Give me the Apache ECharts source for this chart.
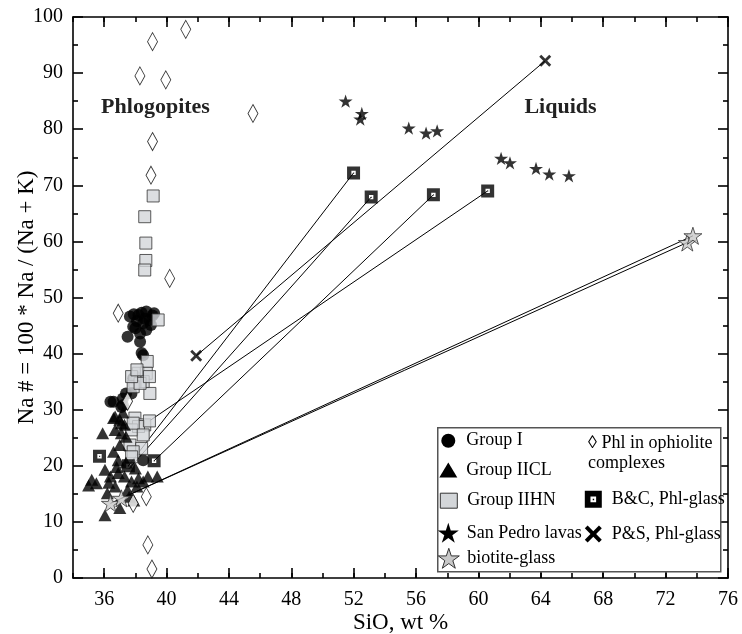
<!DOCTYPE html>
<html><head><meta charset="utf-8">
<script src="https://cdn.jsdelivr.net/npm/echarts@6/dist/echarts.min.js"></script>
<style>html,body{margin:0;padding:0;background:#fff}#c{width:742px;height:634px}</style>
</head><body><div id="c"></div>
<script>
// ---- data ----
const xMajorTicks = [36,40,44,48,52,56,60,64,68,72,76];
const groupI = [[37.65,46.6],[38.2,46.9],[38.7,47.5],[39.1,46.8],[38.5,45.4],[37.86,44.8],[39.0,45.1],[38.0,44.5],[38.7,44.2],[38.3,43.6],[37.5,43.0],[38.3,42.1],[38.4,40.1],[38.5,39.7],[37.86,35.6],[38.0,35.9],[37.4,32.9],[37.75,32.9],[37.2,32.0],[36.6,31.4],[36.4,31.4],[37.2,30.8],[37.1,30.5],[38.5,21.0],[38.9,46.0],[38.4,47.3],[37.9,47.0],[38.6,46.2],[38.1,45.8],[39.2,47.2]];
const groupIIHN = [[39.14,68.1],[38.6,64.4],[38.67,59.7],[38.67,56.6],[38.6,54.9],[39.46,46.0],[38.76,38.6],[38.18,36.5],[38.7,36.5],[38.5,35.0],[37.97,35.0],[38.93,32.9],[37.86,34.1],[38.3,34.7],[38.9,35.9],[37.76,35.9],[38.1,37.1],[37.97,28.5],[38.6,27.3],[38.2,27.0],[37.76,26.4],[37.86,27.6],[38.5,25.5],[37.65,23.7],[38.4,23.1],[37.86,22.5],[37.76,21.6],[38.9,28.0]];
const groupIICL = [[35.9,25.8],[36.6,28.5],[37.0,28.2],[37.3,27.3],[36.7,26.4],[37.1,25.8],[37.4,25.2],[36.6,22.5],[37.0,23.7],[35.5,16.9],[36.05,19.3],[36.4,18.1],[36.9,18.7],[37.3,18.1],[37.75,17.2],[38.2,17.8],[38.8,18.1],[39.4,18.1],[36.7,16.3],[37.5,15.7],[36.2,15.1],[38.1,16.3],[38.5,17.2],[35.2,17.5],[35.0,16.5],[36.05,11.2],[37.0,12.5],[36.9,21.0],[37.4,20.6],[37.2,29.5],[36.8,19.8],[37.6,14.5],[38.0,19.5],[36.3,17.0],[37.9,13.8],[36.7,28.8],[37.1,27.6]];
const ophiolite = [[41.23,97.8],[39.1,95.6],[38.29,89.5],[39.95,88.8],[45.54,82.8],[39.1,77.8],[39.0,71.8],[40.2,53.4],[36.9,47.2],[37.5,31.5],[37.86,13.3],[38.7,14.5],[38.8,5.9],[39.06,1.6]];
const sanPedro = [[51.48,85.0],[52.52,82.8],[52.42,81.8],[55.53,80.2],[56.64,79.3],[57.35,79.7],[61.45,74.8],[62.02,74.0],[63.69,73.0],[64.54,72.0],[65.8,71.7]];
const biotiteGlass = [[73.39,59.8],[73.75,61.0],[36.4,13.3],[37.1,14.2]];
const bcPhlGlass = [[51.99,72.2],[53.12,67.9],[57.11,68.3],[60.59,69.0],[35.7,21.7],[39.2,20.9],[37.55,20.0]];
const psPhlGlass = [[41.9,39.6],[64.28,92.2]];
const tieLines = [
  [[37.55,20.0],[51.99,72.2]],
  [[37.6,19.5],[53.12,67.9]],
  [[39.2,20.9],[57.11,68.3]],
  [[38.9,28.0],[60.59,69.0]],
  [[41.9,39.6],[64.28,92.2]],
  [[36.4,13.3],[73.75,61.0]],
  [[37.1,14.2],[73.39,59.8]]
];

// ---- styles ----
const FF = '"Liberation Serif","Times New Roman",serif';
const STAR = 'path://M50,0L61.2,34.5L97.6,34.5L68.2,55.9L79.4,90.5L50,69.1L20.6,90.5L31.8,55.9L2.4,34.5L38.8,34.5Z';
const BC = 'path://M0,0H12V12H0Z M4,4V8H8V4Z M5.6,5.6H6.6V6.6H5.6Z';
const XS = 'path://M0,2L2,0L6,4L10,0L12,2L8,6L12,10L10,12L6,8L2,12L0,10L4,6Z';
const AX = {color:'#000', width:1.6};
const gridBox = {left:73, right:14, top:17, bottom:56, outerBoundsMode:'none', containLabel:false};

function leg(name, icon, style, left, top, w, h, pad, extra) {
  return Object.assign({
    data:[{name:name, icon:icon, itemStyle:style}], left:left, top:top, orient:'vertical', padding:0,
    itemWidth:w, itemHeight:h, selectedMode:false, itemStyle:style,
    textStyle:{fontFamily:FF, fontSize:18, color:'#000', lineHeight:20, padding:[0,0,0,pad]}
  }, extra||{});
}
const BLACK = {color:'#000', borderWidth:0, opacity:1};

const chart = echarts.init(document.getElementById('c'), null, {renderer:'canvas'});
chart.setOption({
  animation:false,
  backgroundColor:'#fff',
  grid:[Object.assign({}, gridBox), Object.assign({}, gridBox)],
  xAxis:[
    {gridIndex:0, type:'value', position:'bottom', min:34, max:76, interval:2,
     axisLine:{show:true, onZero:false, lineStyle:AX},
     axisTick:{show:true, inside:true, length:10, customValues:xMajorTicks, lineStyle:AX},
     axisLabel:{show:true, customValues:xMajorTicks, fontFamily:FF, fontSize:20, color:'#000', margin:12},
     splitLine:{show:false},
     name:'SiO, wt %', nameLocation:'middle', nameGap:33, nameMoveOverlap:false,
     nameTextStyle:{fontFamily:FF, fontSize:23, color:'#000'}},
    {gridIndex:0, type:'value', position:'top', min:34, max:76, interval:2,
     axisLine:{show:true, onZero:false, lineStyle:AX},
     axisTick:{show:true, inside:true, length:10, customValues:xMajorTicks, lineStyle:AX},
     axisLabel:{show:false}, splitLine:{show:false}},
    {gridIndex:1, type:'value', position:'bottom', min:34, max:76, interval:2,
     axisLine:{show:false, onZero:false},
     axisTick:{show:true, inside:true, length:5, lineStyle:AX},
     axisLabel:{show:false}, splitLine:{show:false}},
    {gridIndex:1, type:'value', position:'top', min:34, max:76, interval:2,
     axisLine:{show:false, onZero:false},
     axisTick:{show:true, inside:true, length:5, lineStyle:AX},
     axisLabel:{show:false}, splitLine:{show:false}}
  ],
  yAxis:[
    {gridIndex:0, type:'value', position:'left', min:0, max:100, interval:10,
     axisLine:{show:true, onZero:false, lineStyle:AX},
     axisTick:{show:true, inside:true, length:10, lineStyle:AX},
     minorTick:{show:true, splitNumber:2, length:5, lineStyle:AX},
     axisLabel:{fontFamily:FF, fontSize:20, color:'#000', margin:10},
     splitLine:{show:false}, minorSplitLine:{show:false},
     name:'Na # = 100 * Na / (Na + K)', nameLocation:'middle', nameGap:35, nameRotate:90, nameMoveOverlap:false,
     nameTextStyle:{fontFamily:FF, fontSize:23, color:'#000'}},
    {gridIndex:0, type:'value', position:'right', min:0, max:100, interval:10,
     axisLine:{show:true, onZero:false, lineStyle:AX},
     axisTick:{show:true, inside:true, length:10, lineStyle:AX},
     minorTick:{show:true, splitNumber:2, length:5, lineStyle:AX},
     axisLabel:{show:false}, splitLine:{show:false}},
    {gridIndex:1, type:'value', min:0, max:100, show:false}
  ],
  legend:[
    leg('Group I', 'circle', BLACK, 441.3, 430.7, 14, 14, 6),
    leg('Group IICL', 'triangle', BLACK, 439.3, 460, 18, 15, 4),
    leg('Group IIHN', 'rect', {color:'#d3d6d9', borderColor:'#333', borderWidth:1, opacity:1}, 439.8, 490.7, 17, 15, 5),
    leg('San Pedro lavas', STAR, BLACK, 437.8, 522.8, 21, 20, 3),
    leg('biotite-glass', STAR, {color:'#c8c8c8', borderColor:'#333', borderWidth:1, opacity:1}, 437.8, 547.8, 21, 20, 3),
    leg('Phl in ophiolite complexes', 'none', BLACK, 583, 433, 0, 14, 0, {
      formatter:function(){return '\u25CA Phl in ophiolite\ncomplexes';}}),
    leg('B&C, Phl-glass', BC, BLACK, 584.8, 489.3, 17, 17, 5),
    leg('P&S, Phl-glass', XS, BLACK, 584.8, 524, 17, 17, 5)
  ],
  graphic:[
    {type:'rect', left:437, top:427, z:3, silent:true,
     shape:{width:283, height:144}, style:{fill:'#fff', stroke:'#555', lineWidth:1.5}},
    {type:'text', x:155.5, y:107, z:5, silent:true,
     style:{text:'Phlogopites', font:'bold 22px "Liberation Serif"', fill:'#222', align:'center', verticalAlign:'middle'}},
    {type:'text', x:560.5, y:107, z:5, silent:true,
     style:{text:'Liquids', font:'bold 22px "Liberation Serif"', fill:'#222', align:'center', verticalAlign:'middle'}}
  ],
  series:[
    {type:'lines', name:'tie', coordinateSystem:'cartesian2d', xAxisIndex:0, yAxisIndex:0, silent:true, z:1,
     data:tieLines.map(function(c){return {coords:c};}),
     lineStyle:{color:'#000', width:1, opacity:1}},
    {type:'scatter', name:'Group I', xAxisIndex:0, yAxisIndex:0, data:groupI, symbol:'circle', symbolSize:12,
     itemStyle:{color:'#000'}, z:2},
    {type:'scatter', name:'Group IIHN', xAxisIndex:0, yAxisIndex:0, data:groupIIHN, symbol:'rect', symbolSize:12,
     itemStyle:{color:'#d3d6d9', borderColor:'#333', borderWidth:1}, z:3},
    {type:'scatter', name:'Group IICL', xAxisIndex:0, yAxisIndex:0, data:groupIICL, symbol:'triangle', symbolSize:[13,12],
     itemStyle:{color:'#000'}, z:4},
    {type:'scatter', name:'Phl in ophiolite complexes', xAxisIndex:0, yAxisIndex:0, data:ophiolite, symbol:'diamond', symbolSize:[10,18],
     itemStyle:{color:'#fff', borderColor:'#000', borderWidth:0.9}, z:5},
    {type:'scatter', name:'San Pedro lavas', xAxisIndex:0, yAxisIndex:0, data:sanPedro, symbol:STAR, symbolKeepAspect:true, symbolSize:14,
     itemStyle:{color:'#000'}, z:5},
    {type:'scatter', name:'biotite-glass', xAxisIndex:0, yAxisIndex:0, data:biotiteGlass, symbol:STAR, symbolKeepAspect:true, symbolSize:18,
     itemStyle:{color:'#c8c8c8', borderColor:'#333', borderWidth:1}, z:5},
    {type:'scatter', name:'B&C, Phl-glass', xAxisIndex:0, yAxisIndex:0, data:bcPhlGlass, symbol:BC, symbolSize:13,
     itemStyle:{color:'#000'}, z:6},
    {type:'scatter', name:'P&S, Phl-glass', xAxisIndex:0, yAxisIndex:0, data:psPhlGlass, symbol:XS, symbolSize:12,
     itemStyle:{color:'#000'}, z:6}
  ]
});
</script>
</body></html>
